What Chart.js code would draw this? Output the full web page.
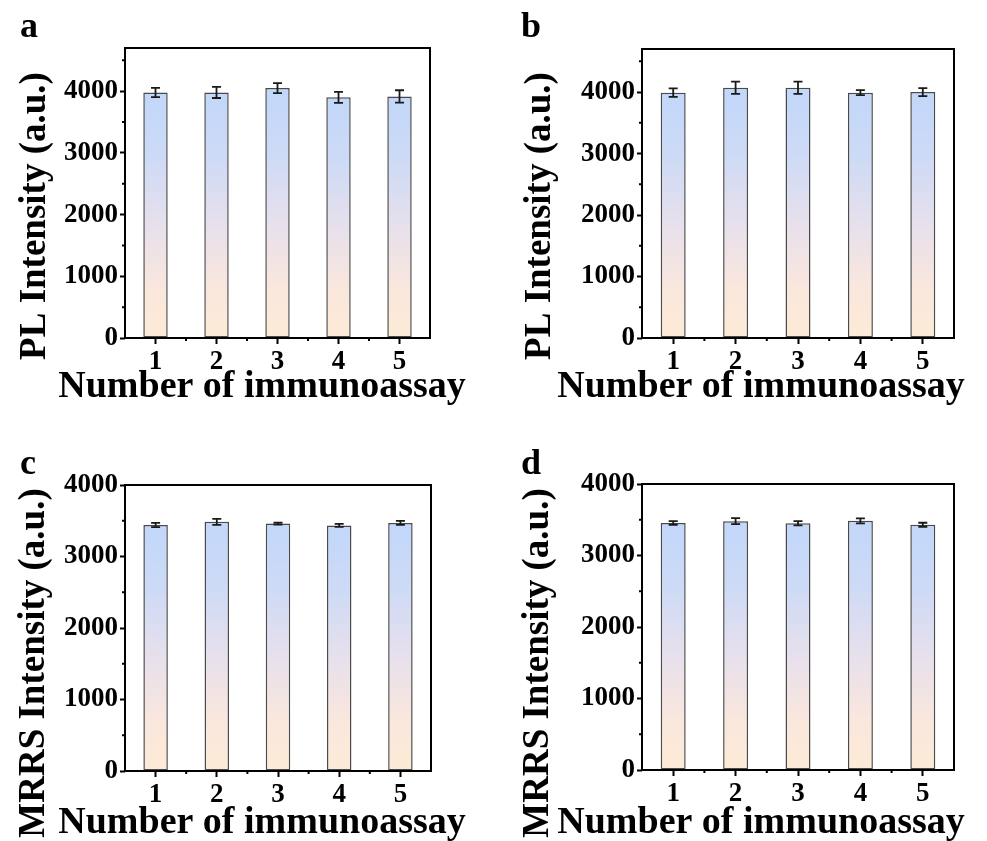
<!DOCTYPE html>
<html>
<head>
<meta charset="UTF-8">
<script src="https://cdn.jsdelivr.net/npm/chart.js"></script>
<style>
    body { margin: 0; background: #fff; }
    #wrap { position: relative; width: 987px; height: 841px; overflow: hidden; }
    canvas { position: absolute; }
</style>
</head>
<body>
<div id="wrap">
    <canvas id="chartA" width="493" height="420" style="left:0;top:0"></canvas>
    <canvas id="chartB" width="494" height="420" style="left:493px;top:0"></canvas>
    <canvas id="chartC" width="493" height="421" style="left:0;top:420px"></canvas>
    <canvas id="chartD" width="494" height="421" style="left:493px;top:420px"></canvas>
</div>

<script>
    // runs of the immunoassay (x categories)
    const categories = ['1', '2', '3', '4', '5'];
    // major y tick values, shared by all four panels
    const yTickValues = [0, 1000, 2000, 3000, 4000];

    // panel a: PL intensity
    const plValuesA = [3980, 3980, 4050, 3900, 3915];
    const plErrorsA = [75, 90, 80, 90, 100];
    // panel b: PL intensity
    const plValuesB = [3990, 4070, 4070, 3990, 4000];
    const plErrorsB = [70, 100, 100, 40, 65];
    // panel c: MRRS intensity
    const mrrsValuesC = [3440, 3485, 3460, 3435, 3470];
    const mrrsErrorsC = [30, 42, 15, 22, 28];
    // panel d: MRRS intensity
    const mrrsValuesD = [3455, 3480, 3450, 3485, 3430];
    const mrrsErrorsD = [25, 42, 30, 35, 28];

    const FONT = '"Liberation Serif", "Times New Roman", serif';
    Chart.defaults.font.family = FONT;
    Chart.defaults.font.weight = 'bold';
    Chart.defaults.color = '#000';

    function barFill(context) {
        const chart = context.chart;
        if (!chart.chartArea || context.type !== 'data') return '#dfe2f2';
        const y = chart.scales.y;
        const top = y.getPixelForValue(context.raw);
        const bot = y.getPixelForValue(0);
        const g = chart.ctx.createLinearGradient(0, top, 0, bot);
        g.addColorStop(0, '#c2d7fa');
        g.addColorStop(0.25, '#ccdaf6');
        g.addColorStop(0.55, '#e8e0ec');
        g.addColorStop(0.8, '#fae7dd');
        g.addColorStop(1, '#fdebd7');
        return g;
    }

    // error bars, frame, minor ticks, titles and panel letter
    const panelDecor = {
        id: 'panelDecor',
        afterDatasetsDraw(chart, args, opts) {
            const ctx = chart.ctx;
            const area = chart.chartArea;
            const x = chart.scales.x;
            const y = chart.scales.y;
            const ds = chart.data.datasets[0];
            ctx.save();

            ctx.strokeStyle = '#1a1a1a';
            ctx.lineWidth = 1.8;
            ds.data.forEach((v, i) => {
                const e = opts.errors[i];
                const px = x.getPixelForValue(i);
                const top = y.getPixelForValue(v + e);
                const bot = y.getPixelForValue(v - e);
                ctx.beginPath();
                ctx.moveTo(px, top); ctx.lineTo(px, bot);
                ctx.moveTo(px - 4.5, top); ctx.lineTo(px + 4.5, top);
                ctx.moveTo(px - 4.5, bot); ctx.lineTo(px + 4.5, bot);
                ctx.stroke();
            });

            ctx.strokeStyle = '#000';
            ctx.lineWidth = 2;
            ctx.strokeRect(area.left, area.top, area.width, area.height);

            ctx.beginPath();
            for (let v = 500; v < y.max; v += 1000) {
                const py = y.getPixelForValue(v);
                ctx.moveTo(area.left, py);
                ctx.lineTo(area.left - 3, py);
            }
            for (let i = 0; i < categories.length - 1; i++) {
                const px = x.getPixelForValue(i + 0.5);
                ctx.moveTo(px, area.bottom);
                ctx.lineTo(px, area.bottom + 3);
            }
            ctx.stroke();

            ctx.fillStyle = '#000';
            ctx.font = 'bold 38px ' + FONT;
            ctx.textAlign = 'center';
            ctx.textBaseline = 'alphabetic';
            ctx.fillText(opts.xTitle, opts.xTitleX, opts.xTitleY);

            ctx.save();
            ctx.font = 'bold 37px ' + FONT;
            ctx.translate(opts.yTitleX, opts.yTitleY);
            ctx.rotate(-Math.PI / 2);
            ctx.fillText(opts.yTitle, 0, 0);
            ctx.restore();

            ctx.font = 'bold 36px ' + FONT;
            ctx.textAlign = 'left';
            ctx.fillText(opts.letter, opts.letterX, opts.letterY);

            ctx.restore();
        }
    };

    function makePanel(id, values, errors, yMax, look) {
        new Chart(document.getElementById(id), {
            type: 'bar',
            data: {
                labels: categories,
                datasets: [{
                    data: values,
                    backgroundColor: barFill,
                    borderColor: '#4a4a4a',
                    borderWidth: 1.5,
                    borderSkipped: false,
                    barPercentage: 0.4,
                    categoryPercentage: 1
                }]
            },
            options: {
                responsive: false,
                animation: false,
                layout: { padding: { top: look.top, right: look.right, left: 0, bottom: 0 } },
                plugins: {
                    legend: { display: false },
                    tooltip: { enabled: false },
                    panelDecor: Object.assign({ errors: errors }, look.text)
                },
                scales: {
                    x: {
                        afterFit: s => { s.height = look.xHeight; },
                        grid: { offset: false, drawOnChartArea: false, tickLength: 6, tickWidth: 2, tickColor: '#000' },
                        border: { display: false },
                        ticks: { padding: 2, font: { size: 27, weight: 'bold' } }
                    },
                    y: {
                        min: 0,
                        max: yMax,
                        afterFit: s => { s.width = look.yWidth; },
                        afterBuildTicks: s => { s.ticks = yTickValues.map(v => ({ value: v })); },
                        grid: { drawOnChartArea: false, tickLength: 5, tickWidth: 2, tickColor: '#000' },
                        border: { display: false },
                        ticks: { padding: 2, font: { size: 27, weight: 'bold' }, callback: v => String(v) }
                    }
                }
            },
            plugins: [panelDecor]
        });
    }

    makePanel('chartA', plValuesA, plErrorsA, 4700, {
        top: 48, right: 63, xHeight: 82, yWidth: 125,
        text: { letter: 'a', letterX: 20, letterY: 37, yTitle: 'PL Intensity (a.u.)', yTitleX: 45, yTitleY: 216,
                xTitle: 'Number of immunoassay', xTitleX: 262, xTitleY: 397 }
    });
    makePanel('chartB', plValuesB, plErrorsB, 4700, {
        top: 49, right: 33, xHeight: 82, yWidth: 149,
        text: { letter: 'b', letterX: 28, letterY: 37, yTitle: 'PL Intensity (a.u.)', yTitleX: 57, yTitleY: 216,
                xTitle: 'Number of immunoassay', xTitleX: 268, xTitleY: 397 }
    });
    makePanel('chartC', mrrsValuesC, mrrsErrorsC, 4000, {
        top: 65, right: 62, xHeight: 70, yWidth: 125,
        text: { letter: 'c', letterX: 20, letterY: 54, yTitle: 'MRRS Intensity (a.u.)', yTitleX: 44, yTitleY: 243,
                xTitle: 'Number of immunoassay', xTitleX: 262, xTitleY: 413 }
    });
    makePanel('chartD', mrrsValuesD, mrrsErrorsD, 4000, {
        top: 64, right: 33, xHeight: 71, yWidth: 149,
        text: { letter: 'd', letterX: 28, letterY: 54, yTitle: 'MRRS Intensity (a.u.)', yTitleX: 55, yTitleY: 243,
                xTitle: 'Number of immunoassay', xTitleX: 268, xTitleY: 413 }
    });
</script>
</body>
</html>
